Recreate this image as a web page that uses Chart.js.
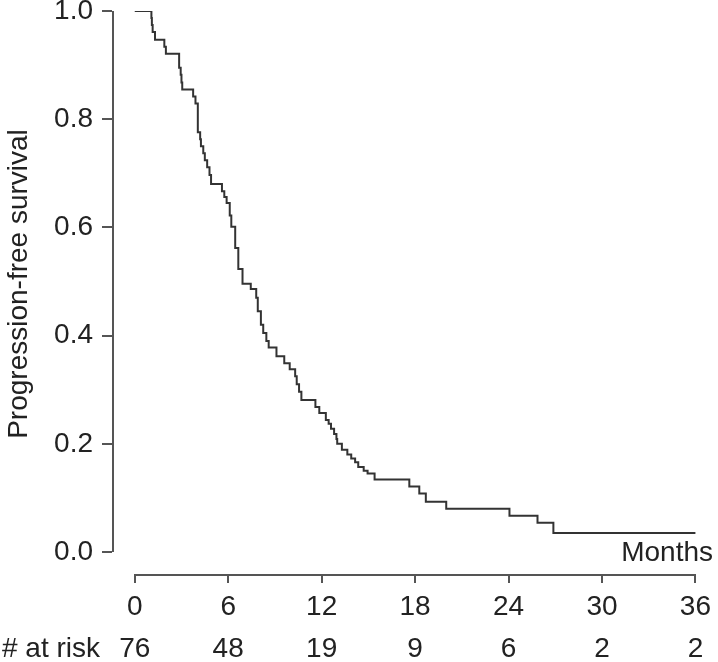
<!DOCTYPE html>
<html>
<head>
<meta charset="utf-8">
<script src="https://cdn.jsdelivr.net/npm/chart.js@4.4.0/dist/chart.umd.min.js"></script>
<style>
  html, body { margin: 0; padding: 0; background: #fff; }
  #wrap { width: 718px; height: 662px; position: relative; }
</style>
</head>
<body>
<div id="wrap"><canvas id="kmChart"></canvas></div>
<script>
// Kaplan-Meier step points (month, survival)
var months = [0, 1.07, 1.1, 1.15, 1.3, 1.9, 2.0, 2.85, 2.95, 3.0, 3.05, 3.75, 3.9, 4.05, 4.2, 4.25, 4.4, 4.5, 4.65, 4.8, 4.9,
  5.6, 5.75, 5.9, 6.1, 6.2, 6.45, 6.65, 6.92, 7.45, 7.8, 7.9, 8.1, 8.25, 8.45, 8.6, 9.1, 9.6, 9.95, 10.3, 10.4, 10.55, 10.7,
  11.6, 11.85, 12.27, 12.45, 12.6, 12.8, 12.95, 13.0, 13.3, 13.65, 13.9, 14.15, 14.35, 14.7, 14.95, 15.4,
  17.63, 18.27, 18.69, 20.0, 24.06, 25.86, 26.88, 36];
var survival = [1.0, 0.987, 0.974, 0.961, 0.947, 0.934, 0.921, 0.895, 0.882, 0.868, 0.855, 0.842, 0.829, 0.776, 0.763, 0.750, 0.737, 0.724, 0.711, 0.697, 0.680,
  0.667, 0.656, 0.645, 0.622, 0.601, 0.562, 0.523, 0.496, 0.486, 0.470, 0.445, 0.420, 0.405, 0.390, 0.378, 0.362, 0.349, 0.338, 0.325, 0.310, 0.296, 0.281,
  0.268, 0.257, 0.244, 0.237, 0.228, 0.218, 0.209, 0.200, 0.189, 0.180, 0.173, 0.166, 0.157, 0.150, 0.145, 0.134,
  0.121, 0.108, 0.093, 0.080, 0.067, 0.054, 0.035, 0.035];

var xTicks = [0, 6, 12, 18, 24, 30, 36];
var yTicks = [0, 0.2, 0.4, 0.6, 0.8, 1.0];
var atRisk = [76, 48, 19, 9, 6, 2, 2];

var FONT = '"Liberation Sans", Arial, Helvetica, sans-serif';
var axisColor = '#555';
var textColor = '#222';

var points = months.map(function(m, i) { return {x: m, y: survival[i]}; });

// axis lines only over the data range, plus the free text
var kmExtras = {
  id: 'kmExtras',
  afterDraw: function(chart) {
    var ctx = chart.ctx;
    var xs = chart.scales.x, ys = chart.scales.y;
    ctx.save();
    ctx.strokeStyle = axisColor;
    ctx.lineWidth = 2;
    ctx.beginPath();
    ctx.moveTo(xs.left + 1, ys.getPixelForValue(0));
    ctx.lineTo(xs.left + 1, ys.getPixelForValue(1));
    ctx.moveTo(xs.getPixelForValue(xTicks[0]), ys.bottom + 1);
    ctx.lineTo(xs.getPixelForValue(xTicks[xTicks.length - 1]), ys.bottom + 1);
    ctx.stroke();

    ctx.fillStyle = textColor;
    ctx.font = '28px ' + FONT;
    ctx.textBaseline = 'middle';
    ctx.textAlign = 'right';
    ctx.fillText('Months', 713, 553);

    ctx.textAlign = 'left';
    ctx.fillText('# at risk', 2, 649);
    ctx.textAlign = 'center';
    xTicks.forEach(function(t, i) {
      ctx.fillText(String(atRisk[i]), xs.getPixelForValue(t), 649);
    });

    ctx.translate(19, 284);
    ctx.rotate(-Math.PI / 2);
    ctx.fillText('Progression-free survival', 0, 0);
    ctx.restore();
  }
};

var km = new Chart(document.getElementById('kmChart'), {
  type: 'line',
  data: {
    datasets: [{
      data: points,
      stepped: 'before',
      borderColor: '#333',
      borderWidth: 2,
      pointRadius: 0,
      fill: false
    }]
  },
  options: {
    responsive: true,
    maintainAspectRatio: false,
    animation: false,
    layout: { padding: { top: 11, right: 0, bottom: 0, left: 0 } },
    plugins: {
      legend: { display: false },
      tooltip: { enabled: false }
    },
    scales: {
      x: {
        type: 'linear',
        min: -1.46,
        max: 37.02,
        afterBuildTicks: function(scale) {
          scale.ticks = xTicks.map(function(v) { return {value: v}; });
        },
        afterFit: function(scale) { scale.height = 88; },
        border: { display: false },
        grid: { drawOnChartArea: false, drawTicks: true, tickLength: 9, color: axisColor, lineWidth: 2 },
        ticks: { color: textColor, font: { family: FONT, size: 28 }, padding: 7, maxRotation: 0, autoSkip: false }
      },
      y: {
        min: -0.0407,
        max: 1.0,
        afterBuildTicks: function(scale) {
          scale.ticks = yTicks.map(function(v) { return {value: v}; });
        },
        afterFit: function(scale) { scale.width = 112; },
        border: { display: false },
        grid: { drawOnChartArea: false, drawTicks: true, tickLength: 10, color: axisColor, lineWidth: 2 },
        ticks: {
          color: textColor,
          font: { family: FONT, size: 28, lineHeight: 0.1 },
          padding: 9,
          callback: function(v) { return v.toFixed(1); }
        }
      }
    }
  },
  plugins: [kmExtras]
});
</script>
</body>
</html>
